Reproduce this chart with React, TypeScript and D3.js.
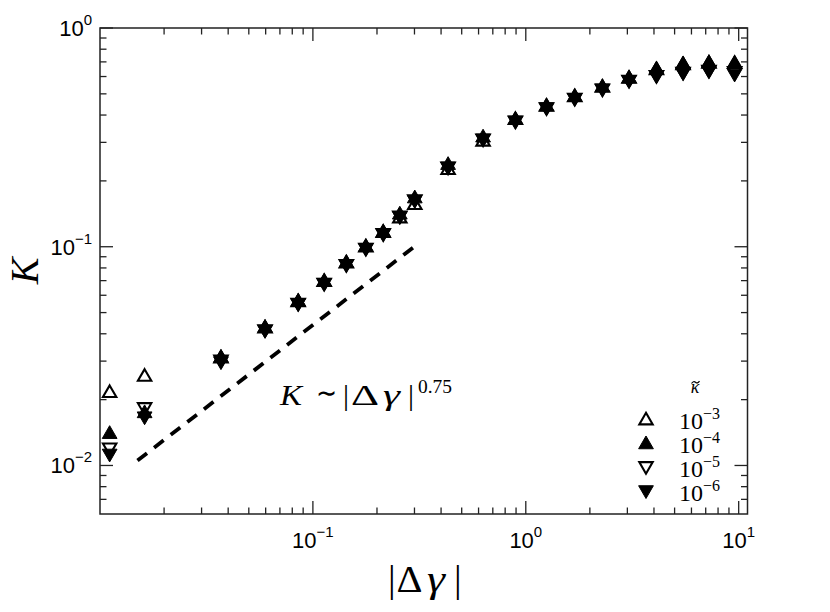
import React from 'react'
import * as d3 from 'd3'

// |Δγ| positions shared by all four κ̃ series
const dGamma = [0.0111, 0.0162, 0.037, 0.0596, 0.0853, 0.113, 0.1436, 0.1773, 0.214, 0.256, 0.301,
  0.4315, 0.63, 0.894, 1.251, 1.698, 2.29, 3.055, 4.11, 5.48, 7.25, 9.57]

const k1e3 = [0.0214, 0.0254, 0.0308, 0.0422, 0.0557, 0.069, 0.0838, 0.0991, 0.1156, 0.1346, 0.155,
  0.224, 0.302, 0.379, 0.436, 0.482, 0.533, 0.585, 0.64, 0.675, 0.685, 0.684]
const k1e4 = [0.0139, 0.0173, 0.031, 0.0425, 0.056, 0.069, 0.084, 0.0995, 0.116, 0.14, 0.166,
  0.236, 0.315, 0.38, 0.437, 0.483, 0.535, 0.587, 0.645, 0.681, 0.69, 0.684]
const k1e5 = [0.0121, 0.0185, 0.0305, 0.042, 0.0555, 0.0685, 0.0835, 0.099, 0.1155, 0.139, 0.165,
  0.233, 0.313, 0.378, 0.435, 0.48, 0.53, 0.58, 0.61, 0.632, 0.645, 0.636]
const k1e6 = [0.01135, 0.0168, 0.03, 0.0418, 0.0553, 0.0685, 0.0835, 0.099, 0.1155, 0.1385, 0.164,
  0.233, 0.313, 0.378, 0.435, 0.48, 0.53, 0.58, 0.61, 0.629, 0.642, 0.62]

const legendExp = ['−3', '−4', '−5', '−6']

// power law guide K ~ |Δγ|^0.75, two end points
const fitGamma = [0.015, 0.3]
const fitK = [0.01054, 0.1002]

const xMajor = [0.1, 1, 10]
const xMajorExp = ['−1', '0', '1']
const yMajor = [0.01, 0.1, 1]
const yMajorExp = ['−2', '−1', '0']

const W = 830, H = 612
const M = { l: 100, r: 82.5, t: 28, b: 98 }

const series = [
  { vals: k1e3, filled: false, down: false },
  { vals: k1e4, filled: true, down: false },
  { vals: k1e5, filled: false, down: true },
  { vals: k1e6, filled: true, down: true },
]

const sans = "'Liberation Sans', Arial, sans-serif"
const serif = "'Liberation Serif', 'Times New Roman', serif"

export default function App() {
  const x = d3.scaleLog().domain([0.01, 11]).range([M.l, W - M.r])
  const y = d3.scaleLog().domain([0.006, 1]).range([H - M.b, M.t])
  const [x0, x1] = x.range()
  const [y0, y1] = y.range()

  const minors = (dom: number[]) => {
    const out: number[] = []
    for (let e = -4; e <= 2; e++) for (let m = 2; m <= 9; m++) {
      const v = m * Math.pow(10, e)
      if (v > dom[0] * 1.0001 && v < dom[1] * 0.9999) out.push(v)
    }
    return out
  }
  const xMinor = minors(x.domain())
  const yMinor = minors(y.domain())

  const openSym = d3.symbol().type(d3.symbolTriangle).size(78)()
  const fillSym = d3.symbol().type(d3.symbolTriangle).size(94)()

  const fitLine = d3.line<number>().x(d => x(d)).y((_, i) => y(fitK[i]))

  const tc = '#222'

  const marker = (s: typeof series[0], key: string, cx: number, cy: number) => (
    <path key={key} d={s.filled ? fillSym! : openSym!}
      transform={`translate(${cx},${cy})${s.down ? ' rotate(180)' : ''}`}
      fill={s.filled ? '#000' : 'none'} stroke="#000" strokeWidth={s.filled ? 1 : 2.1} />
  )

  // one math piece, optionally stretched to the width it has in the reference
  const piece = (t: string, px: number, py: number, size: number, len?: number, italic = false) => (
    <text x={px} y={py} textLength={len} lengthAdjust={len ? 'spacingAndGlyphs' : undefined}
      style={{ fontFamily: serif, fontSize: size, fontStyle: italic ? 'italic' : 'normal' }} fill="#000">{t}</text>
  )

  return (
    <div style={{ position: 'fixed', left: 0, top: 0 }}>
      <svg width={W} height={H} style={{ display: 'block', background: '#fff' }}>
        {/* frame */}
        <rect x={x0} y={y1} width={x1 - x0} height={y0 - y1} fill="none" stroke={tc} strokeWidth={1.5} />

        {/* x ticks, bottom and top, inward */}
        {xMajor.map(v => (
          <g key={'xM' + v}>
            <line x1={x(v)} x2={x(v)} y1={y0} y2={y0 - 13} stroke={tc} strokeWidth={1.3} />
            <line x1={x(v)} x2={x(v)} y1={y1} y2={y1 + 13} stroke={tc} strokeWidth={1.3} />
          </g>
        ))}
        {xMinor.map(v => (
          <g key={'xm' + v}>
            <line x1={x(v)} x2={x(v)} y1={y0} y2={y0 - 6.5} stroke={tc} strokeWidth={1.3} />
            <line x1={x(v)} x2={x(v)} y1={y1} y2={y1 + 6.5} stroke={tc} strokeWidth={1.3} />
          </g>
        ))}
        {/* y ticks, left and right */}
        {yMajor.map(v => (
          <g key={'yM' + v}>
            <line x1={x0} x2={x0 + 13} y1={y(v)} y2={y(v)} stroke={tc} strokeWidth={1.3} />
            <line x1={x1} x2={x1 - 13} y1={y(v)} y2={y(v)} stroke={tc} strokeWidth={1.3} />
          </g>
        ))}
        {yMinor.map(v => (
          <g key={'ym' + v}>
            <line x1={x0} x2={x0 + 6.5} y1={y(v)} y2={y(v)} stroke={tc} strokeWidth={1.3} />
            <line x1={x1} x2={x1 - 6.5} y1={y(v)} y2={y(v)} stroke={tc} strokeWidth={1.3} />
          </g>
        ))}

        {/* tick labels */}
        {xMajor.map((v, i) => (
          <text key={'xl' + v} x={x(v)} y={y0 + 34} textAnchor="middle"
            style={{ fontFamily: sans, fontSize: 22 }} fill="#000">
            10<tspan style={{ fontSize: 15 }} dy={-11}>{xMajorExp[i]}</tspan>
          </text>
        ))}
        {yMajor.map((v, i) => (
          <text key={'yl' + v} x={x0 - 8} y={y(v) + 8} textAnchor="end"
            style={{ fontFamily: sans, fontSize: 22 }} fill="#000">
            10<tspan style={{ fontSize: 15 }} dy={-11}>{yMajorExp[i]}</tspan>
          </text>
        ))}

        {/* axis titles */}
        {piece('|', 388, 592, 38)}
        {piece('Δ', 396.5, 592, 38, 26)}
        {piece('γ', 427, 592, 38, 18, true)}
        {piece('|', 454, 592, 38)}
        <text transform="translate(38,271) rotate(-90)" textAnchor="middle"
          style={{ fontFamily: serif, fontStyle: 'italic', fontSize: 40 }} fill="#000">K</text>

        {/* power-law guide */}
        <path d={fitLine(fitGamma) ?? ''} fill="none" stroke="#000" strokeWidth={3.8} strokeDasharray="12,9" />
        {piece('K', 280, 405, 30, 22, true)}
        {piece('∼', 316, 403, 30, 21)}
        {piece('|', 343, 405, 30)}
        {piece('Δ', 351, 405, 30, 28)}
        {piece('γ', 383, 405, 30, 17, true)}
        {piece('|', 408, 405, 30)}
        {piece('0.75', 418, 393, 19, 34)}

        {/* data */}
        {series.map((s, si) => (
          <g key={'s' + si}>
            {s.vals.map((v, i) => marker(s, `${si}-${i}`, x(dGamma[i]), y(v)))}
          </g>
        ))}

        {/* legend */}
        <text x={695} y={393} textAnchor="middle"
          style={{ fontFamily: serif, fontStyle: 'italic', fontSize: 18 }} fill="#000">κ</text>
        <path d="M691.5,383.5 q2,-3 4,-1.2 q2,1.8 4,-1.2" fill="none" stroke="#000" strokeWidth={1.2} />
        {series.map((s, i) => {
          const base = 429 + i * 24
          return (
            <g key={'lg' + i}>
              {marker(s, 'lm' + i, 646, base - (s.down ? 11 : 8.5))}
              <text x={679} y={base} style={{ fontFamily: serif, fontSize: 24 }} fill="#000">
                10<tspan style={{ fontSize: 16 }} dy={-10}>{legendExp[i]}</tspan>
              </text>
            </g>
          )
        })}
      </svg>
    </div>
  )
}
